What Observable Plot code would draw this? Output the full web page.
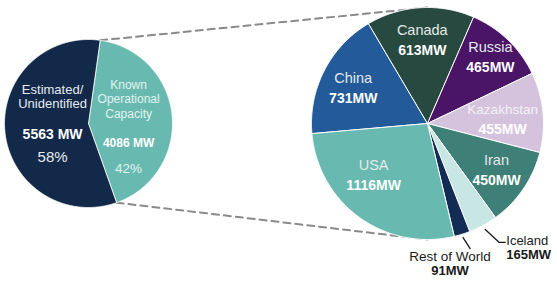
<!DOCTYPE html>
<html>
<head>
<meta charset="utf-8">
<script src="https://cdn.jsdelivr.net/npm/d3@7"></script>
<script src="https://cdn.jsdelivr.net/npm/@observablehq/plot@0.6"></script>
<style>
  html, body { margin: 0; padding: 0; background: #fff; }
  #chart svg { display: block; }
</style>
</head>
<body>
<div id="chart"></div>
<script>
// ---- Data ----
const overviewNames = ["Known\nOperational\nCapacity", "Estimated/\nUnidentified"];
const overviewValues = [4086, 5563];
const overviewPct = ["42%", "58%"];
const overviewColors = ["#68bab1", "#12294a"];

const countryNames = ["China", "Canada", "Russia", "Kazakhstan", "Iran", "Iceland", "Rest of World", "USA"];
const countryValues = [731, 613, 465, 455, 450, 165, 91, 1116];
const countryColors = ["#225a9a", "#27493f", "#4a1566", "#d5c3de", "#3e7f78", "#c8e6e3", "#122c55", "#68bab1"];
const outsideLabels = ["Iceland", "Rest of World"];

// ---- Layout (not data) ----
const W = 557, H = 282;
const deg = Math.PI / 180;
const leftPie = {cx: 88, cy: 123, r: 84, start: 8};
const rightPie = {cx: 427, cy: 123, r: 116, start: -95};
const font = "Liberation Sans, Arial, Helvetica, sans-serif";

function pt(p, a, k = 1) {
  return {x: p.cx + p.r * k * Math.sin(a), y: p.cy - p.r * k * Math.cos(a)};
}
function slices(p, names, values, colors) {
  const arcs = d3.pie().sort(null).value(d => d)
    .startAngle(p.start * deg).endAngle(p.start * deg + 2 * Math.PI)(values);
  return arcs.map((a, i) => ({
    name: names[i], value: values[i], color: colors[i],
    a0: a.startAngle, a1: a.endAngle, mid: (a.startAngle + a.endAngle) / 2
  }));
}
function polygon(p, s, tag) {
  const key = tag + s.name;
  const c = {key, color: s.color, x: p.cx, y: p.cy};
  const pts = [c];
  const n = Math.max(2, Math.ceil((s.a1 - s.a0) / (0.5 * deg)));
  for (let i = 0; i <= n; i++) {
    const a = s.a0 + (s.a1 - s.a0) * i / n;
    pts.push({key, color: s.color, ...pt(p, a)});
  }
  pts.push({...c});
  return pts;
}

const leftSlices = slices(leftPie, overviewNames, overviewValues, overviewColors);
const rightSlices = slices(rightPie, countryNames, countryValues, countryColors);

const leftPolys = leftSlices.flatMap(s => polygon(leftPie, s, "L"));
const rightPolys = rightSlices.flatMap(s => polygon(rightPie, s, "R"));

// Dashed connectors: edges of the "Known" slice to top/bottom of the second pie
const known = leftSlices[0];
const connectors = [
  {k: "top", ...pt(leftPie, known.a0)}, {k: "top", ...pt(rightPie, 0)},
  {k: "bot", ...pt(leftPie, known.a1)}, {k: "bot", ...pt(rightPie, Math.PI)}
];

// ---- Labels ----
const normalText = [];
const boldText = [];

// left pie
const leftStyle = [
  {k: 0.48, nameSize: 12, valSize: 12, pctSize: 13.5, cyOff: 3.5, gapVal: 29, gapPct: 26, color: "#e2f2ef"},
  {k: 0.43, nameSize: 13, valSize: 14, pctSize: 15, cyOff: 0, gapVal: 30, gapPct: 23, color: "#e6eaf0"}
];
leftSlices.forEach((s, i) => {
  const st = leftStyle[i];
  const a = pt(leftPie, s.mid, st.k);
  const lines = s.name.split("\n");
  const lh = 14.5;
  const blockH = (lines.length - 1) * lh + st.gapVal + st.gapPct;
  let y = leftPie.cy + st.cyOff - blockH / 2;
  lines.forEach((t, j) => normalText.push({x: a.x, y: y + j * lh, text: t, size: st.nameSize, fill: st.color, anchor: "middle"}));
  y += (lines.length - 1) * lh + st.gapVal;
  boldText.push({x: a.x, y, text: `${s.value} MW`, size: st.valSize, fill: "#ffffff", anchor: "middle"});
  y += st.gapPct;
  normalText.push({x: a.x, y, text: overviewPct[i], size: st.pctSize, fill: st.color, anchor: "middle"});
});

// right pie inside labels
const nudge = {USA: [-5, -16], Russia: [5, -6], Kazakhstan: [-8, 4], China: [0, 3]};
rightSlices.filter(s => !outsideLabels.includes(s.name)).forEach(s => {
  const a = pt(rightPie, s.mid, 0.72);
  const [dx, dy] = nudge[s.name] || [0, 0];
  const x = a.x + dx, y = a.y + dy;
  const sz = s.name === "Kazakhstan" ? 13.5 : 14.5;
  normalText.push({x, y: y - 10, text: s.name, size: sz, fill: s.name === "Kazakhstan" ? "#f4f0f7" : "#e4e9ea", anchor: "middle"});
  boldText.push({x, y: y + 10, text: `${s.value}MW`, size: 14, fill: "#ffffff", anchor: "middle"});
});

// outside labels with leader lines
const leaders = [];
const ice = rightSlices.find(s => s.name === "Iceland");
{
  const p0 = pt(rightPie, ice.mid, 1.04);
  const p1 = {x: p0.x + 14, y: p0.y + 13};
  const p2 = {x: p1.x + 6, y: p1.y};
  leaders.push({k: "ice", ...p0}, {k: "ice", ...p1}, {k: "ice", ...p2});
  normalText.push({x: p2.x + 1, y: p2.y - 2, text: ice.name, size: 13, fill: "#1a1a1a", anchor: "start"});
  boldText.push({x: p2.x + 1, y: p2.y + 12, text: `${ice.value}MW`, size: 13, fill: "#1a1a1a", anchor: "start"});
}
const row = rightSlices.find(s => s.name === "Rest of World");
{
  const p0 = pt(rightPie, row.mid, 1.03);
  const p1 = {x: p0.x + 7, y: p0.y + 11};
  leaders.push({k: "row", ...p0}, {k: "row", ...p1});
  normalText.push({x: p1.x - 20, y: p1.y + 8, text: row.name, size: 13.5, fill: "#1a1a1a", anchor: "middle"});
  boldText.push({x: p1.x - 20, y: p1.y + 22, text: `${row.value}MW`, size: 13, fill: "#1a1a1a", anchor: "middle"});
}

const textMark = (rows, weight, anchor) => Plot.text(rows.filter(d => d.anchor === anchor), {
  x: "x", y: "y", text: "text", fill: "fill", fontSize: "size",
  fontWeight: weight, textAnchor: anchor, lineAnchor: "middle", fontFamily: font
});

const chart = Plot.plot({
  width: W, height: H,
  margin: 0,
  x: {domain: [0, W], range: [0, W], axis: null},
  y: {domain: [0, H], range: [0, H], axis: null},
  color: {type: "identity"},
  style: {fontFamily: font, background: "#fff"},
  marks: [
    Plot.line(connectors, {x: "x", y: "y", z: "k", stroke: "#8a8a8a", strokeWidth: 2, strokeDasharray: "7,5"}),
    Plot.line(leftPolys, {x: "x", y: "y", z: "key", fill: "color", stroke: "#ffffff", strokeWidth: 0.8, strokeLinejoin: "round"}),
    Plot.line(rightPolys, {x: "x", y: "y", z: "key", fill: "color", stroke: "#ffffff", strokeWidth: 1, strokeLinejoin: "round"}),
    Plot.line(leaders, {x: "x", y: "y", z: "k", stroke: "#1a1a1a", strokeWidth: 1.3}),
    textMark(normalText, "normal", "middle"),
    textMark(normalText, "normal", "start"),
    textMark(boldText, "bold", "middle"),
    textMark(boldText, "bold", "start")
  ]
});
document.getElementById("chart").appendChild(chart);
</script>
</body>
</html>
